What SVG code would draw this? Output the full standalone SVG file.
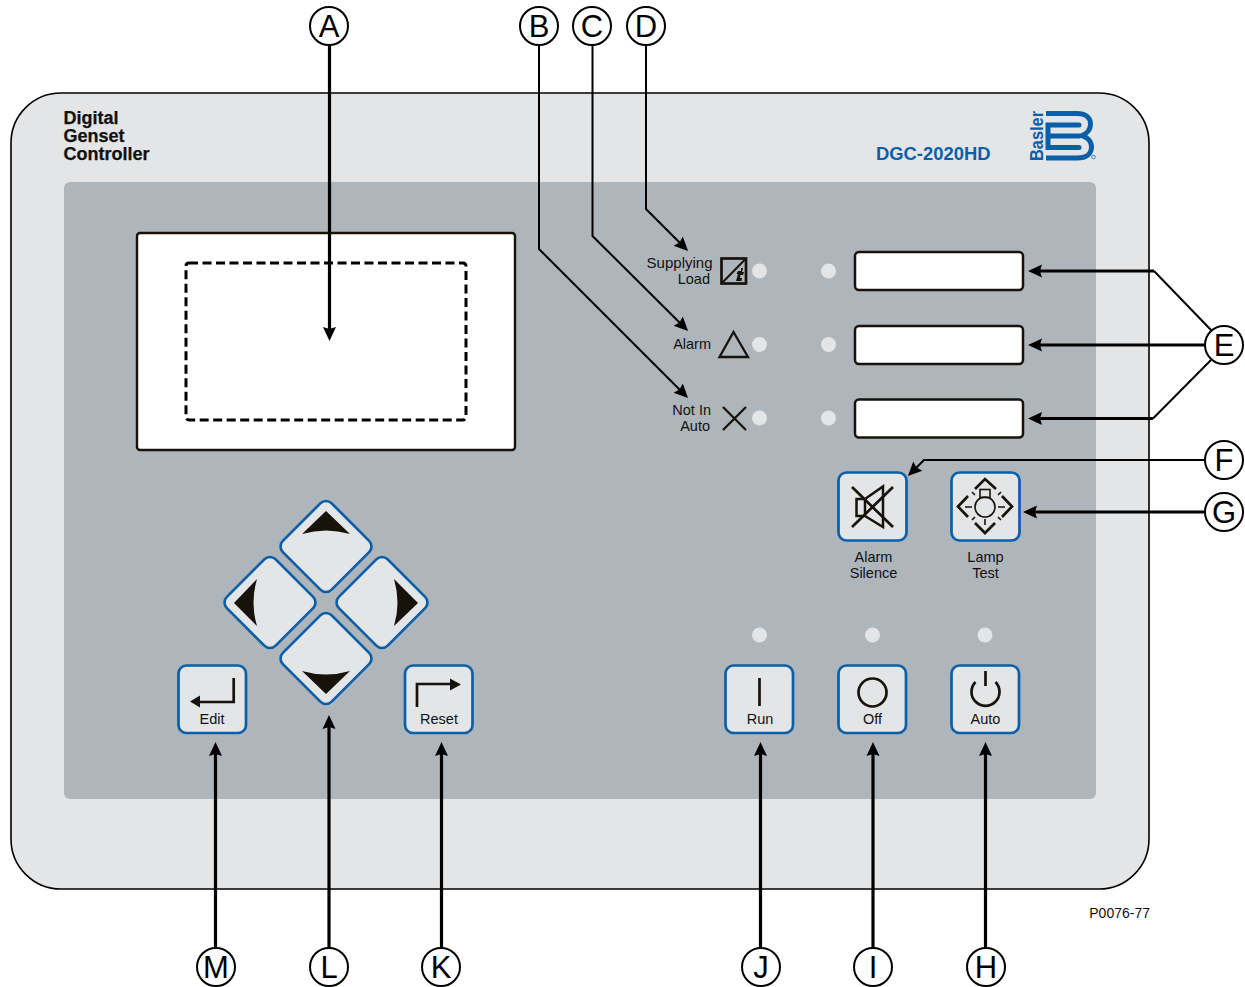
<svg xmlns="http://www.w3.org/2000/svg" width="1245" height="987" viewBox="0 0 1245 987">
<style>
text{font-family:"Liberation Sans",Arial,sans-serif;fill:#111}
.lbl{font-size:14.5px}
.e{text-anchor:end}.m{text-anchor:middle}
.ttl{font-size:18px;font-weight:bold;stroke:#111;stroke-width:.25}
.btn{fill:#e3e5e7;stroke:#0b5fa8;stroke-width:2.7}
.led{fill:#e3e5e7}
.slot{fill:#fff;stroke:#17130a;stroke-width:2.5}
.ic{fill:none;stroke:#17130a;stroke-width:2.7}
.ict{fill:none;stroke:#17130a;stroke-width:1.6}
.fi{fill:#17130a}
.con{fill:none;stroke:#000;stroke-width:3.2;marker-end:url(#ah)}
.thin{fill:none;stroke:#000;stroke-width:2;marker-end:url(#ah)}
.thn{fill:none;stroke:#000;stroke-width:2}
.cir{fill:#fff;stroke:#000;stroke-width:2}
.ltr{font-size:31px;text-anchor:middle;fill:#000}
</style>
<defs>
<marker id="ah" markerUnits="userSpaceOnUse" markerWidth="18" markerHeight="16" viewBox="0 0 18 16" refX="4" refY="8" orient="auto">
<path d="M0 1.500 L14 8 L0 14.500 L2 8Z" fill="#000"/>
</marker>
</defs>
<g id="panel">
<rect x="11" y="93" width="1138" height="796" rx="50" fill="#e3e5e7" stroke="#000" stroke-width="1.6"/>
<rect x="64" y="182" width="1032" height="617" rx="6" fill="#aeb5bb"/>
<text class="ttl" x="63.500" y="124">Digital</text>
<text class="ttl" x="63.500" y="142">Genset</text>
<text class="ttl" x="63.500" y="160">Controller</text>
<text class="ttl" x="876" y="159.500" style="fill:#0b5fa8;stroke:none;font-size:18.400px">DGC-2020HD</text>
</g>
<g id="logo">
<text transform="translate(1042.500 161) rotate(-90)" textLength="50" lengthAdjust="spacingAndGlyphs" style="font-size:17.500px;font-weight:bold;fill:#0b5fa8">Basler</text>
<path d="M1046 113.500H1077C1087 113.500 1090.500 119 1090.500 124C1090.500 130 1086 134 1082 135.500C1087 137 1091.500 141 1091.500 147C1091.500 153 1087 158 1077 158H1046" fill="none" stroke="#0b5fa8" stroke-width="5"/>
<path d="M1079 125H1048V147.500H1079M1048 136H1079" fill="none" stroke="#0b5fa8" stroke-width="5" stroke-linecap="round"/>
<circle cx="1093.500" cy="157" r="1.800" fill="none" stroke="#0b5fa8" stroke-width=".7"/>
</g>
<g id="screen">
<rect x="137" y="233" width="378" height="217" rx="3" fill="#fff" stroke="#17130a" stroke-width="2.400"/>
<rect x="186" y="263" width="280" height="157" rx="3" fill="none" stroke="#000" stroke-width="3" stroke-dasharray="9 4.500"/>
</g>
<g id="status-supplying-load">
<text class="lbl e" x="712.500" y="268" style="font-size:15px">Supplying</text>
<text class="lbl e" x="710" y="284">Load</text>
<rect x="721.500" y="258.500" width="24.500" height="25" fill="none" stroke="#17130a" stroke-width="2.700"/>
<path d="M721.500 283.500L746 258.500" fill="none" stroke="#17130a" stroke-width="2"/>
<path d="M736 281L738 274H736.500L738 271H741V268L743 268L742 272H744L743 275H740.500L740 278H742L741.500 281Z" class="fi"/>
<circle class="led" cx="759.500" cy="271" r="7.500"/><circle class="led" cx="828.500" cy="271" r="7.500"/>
<rect class="slot" x="855" y="252" width="168" height="38" rx="4"/>
</g>
<g id="status-alarm">
<text class="lbl e" x="711" y="349">Alarm</text>
<path d="M719.500 357L733.500 332L748 357Z" fill="none" stroke="#17130a" stroke-width="2.300"/>
<circle class="led" cx="759.500" cy="344.500" r="7.500"/><circle class="led" cx="828.500" cy="344.500" r="7.500"/>
<rect class="slot" x="855" y="326" width="168" height="38" rx="4"/>
</g>
<g id="status-not-in-auto">
<text class="lbl e" x="711" y="415">Not In</text>
<text class="lbl e" x="710" y="431">Auto</text>
<path d="M723 407L746 430M746 407L723 430" fill="none" stroke="#17130a" stroke-width="2.300"/>
<circle class="led" cx="759.500" cy="418" r="7.500"/><circle class="led" cx="828.500" cy="418" r="7.500"/>
<rect class="slot" x="855" y="399.500" width="168" height="38" rx="4"/>
</g>
<g id="btn-alarm-silence">
<rect class="btn" x="838.500" y="472.500" width="68" height="68" rx="8"/>
<path d="M852 487L893 527M893 487L852 527" class="ic"/>
<path d="M856.500 499H865V516H856.500ZM865 499L883 486.500V527L865 516" fill="none" stroke="#17130a" stroke-width="2.500"/>
<text class="lbl m" x="873.500" y="562">Alarm</text>
<text class="lbl m" x="873.500" y="578">Silence</text>
</g>
<g id="btn-lamp-test">
<rect class="btn" x="951.500" y="472.500" width="68" height="68" rx="8"/>
<path d="M975 489L985 479L996 489M975 523L985 533L995 523M968 496L958 506.500L968 517M1002 496L1012 506.500L1002 517" fill="none" stroke="#17130a" stroke-width="2.700"/>
<circle cx="985" cy="507" r="10" class="ict"/>
<rect x="980" y="489.500" width="10" height="8" class="ict"/>
<path d="M965 507H972M998 507H1005M985 519V525M972 492L975 495M998 495L1001 492M972 520L975 517M998 517L1001 520" class="ict"/>
<text class="lbl m" x="985.500" y="562">Lamp</text>
<text class="lbl m" x="985.500" y="578">Test</text>
</g>
<g id="key-up">
<rect class="btn" x="291.500" y="512" width="69" height="69" rx="8" transform="rotate(45 326 546.500)"/>
<path class="fi" d="M326 511L350 534Q326 527 302 534Z"/>
</g>
<g id="key-left">
<rect class="btn" x="235.500" y="568" width="69" height="69" rx="8" transform="rotate(45 270 602.500)"/>
<path class="fi" d="M234 603L257 579Q250 603 257 626Z"/>
</g>
<g id="key-right">
<rect class="btn" x="347.500" y="568" width="69" height="69" rx="8" transform="rotate(45 382 602.500)"/>
<path class="fi" d="M418 603L394 579Q401 603 394 626Z"/>
</g>
<g id="key-down">
<rect class="btn" x="291.500" y="624" width="69" height="69" rx="8" transform="rotate(45 326 658.500)"/>
<path class="fi" d="M326 694L350 671Q326 678 302 671Z"/>
</g>
<g id="btn-edit">
<rect class="btn" x="178.500" y="665.500" width="67.500" height="67.500" rx="8"/>
<path d="M233.700 678V702H198" class="ic"/>
<path class="fi" d="M190 701.500L200 695.500V707.500Z"/>
<text class="lbl m" x="212" y="724">Edit</text>
</g>
<g id="btn-reset">
<rect class="btn" x="405" y="665.500" width="67.500" height="67.500" rx="8"/>
<path d="M417 707V684H452" class="ic"/>
<path class="fi" d="M461 684.500L450 678.500V690.500Z"/>
<text class="lbl m" x="439" y="724">Reset</text>
</g>
<g id="btn-run">
<circle class="led" cx="759.500" cy="635" r="7.500"/>
<rect class="btn" x="725.500" y="665.500" width="67.500" height="67.500" rx="8"/>
<path d="M759.500 678V706" class="ic"/>
<text class="lbl m" x="760" y="724">Run</text>
</g>
<g id="btn-off">
<circle class="led" cx="872.500" cy="635" r="7.500"/>
<rect class="btn" x="838.500" y="665.500" width="67.500" height="67.500" rx="8"/>
<circle cx="872.500" cy="692.500" r="14" class="ic"/>
<text class="lbl m" x="872.500" y="724">Off</text>
</g>
<g id="btn-auto">
<circle class="led" cx="985" cy="635" r="7.500"/>
<rect class="btn" x="951.500" y="665.500" width="67.500" height="67.500" rx="8"/>
<path d="M975.500 682A14 14 0 1 0 995.500 682M985.500 671V686" class="ic"/>
<text class="lbl m" x="985.500" y="724">Auto</text>
</g>
<g id="connectors">
<path class="con" d="M329.500 45V331"/>
<path class="thin" d="M539 45V249L681 391"/>
<path class="thin" d="M592.500 45V236L681 324"/>
<path class="thin" d="M646 45V209L681 244"/>
<path class="con" d="M1205 345H1038"/>
<path class="thn" d="M1211 330L1154 271"/>
<path class="thn" d="M1211 360L1153 418.500"/>
<path class="con" d="M1154 271H1038"/>
<path class="con" d="M1153 418.500H1038"/>
<path class="thin" d="M1205 460H924L915 469"/>
<path class="con" d="M1205 512H1033"/>
<path class="con" d="M985.500 948V752"/>
<path class="con" d="M873 948V752"/>
<path class="con" d="M760.500 948V752"/>
<path class="con" d="M441.500 948V752"/>
<path class="con" d="M329 948V725"/>
<path class="con" d="M215.500 948V752"/>
</g>
<g id="callout-a"><circle class="cir" cx="329" cy="26" r="19"/><text class="ltr" x="329" y="37">A</text></g>
<g id="callout-b"><circle class="cir" cx="539" cy="26" r="19"/><text class="ltr" x="539" y="37">B</text></g>
<g id="callout-c"><circle class="cir" cx="592" cy="26" r="19"/><text class="ltr" x="592" y="37">C</text></g>
<g id="callout-d"><circle class="cir" cx="646" cy="26" r="19"/><text class="ltr" x="646" y="37">D</text></g>
<g id="callout-e"><circle class="cir" cx="1224" cy="345" r="19"/><text class="ltr" x="1224" y="356">E</text></g>
<g id="callout-f"><circle class="cir" cx="1224" cy="460" r="19"/><text class="ltr" x="1224" y="471">F</text></g>
<g id="callout-g"><circle class="cir" cx="1224" cy="512" r="19"/><text class="ltr" x="1224" y="523">G</text></g>
<g id="callout-h"><circle class="cir" cx="986" cy="967" r="19"/><text class="ltr" x="986" y="978">H</text></g>
<g id="callout-i"><circle class="cir" cx="873" cy="967" r="19"/><text class="ltr" x="873" y="978">I</text></g>
<g id="callout-j"><circle class="cir" cx="761" cy="967" r="19"/><text class="ltr" x="761" y="978">J</text></g>
<g id="callout-k"><circle class="cir" cx="441" cy="967" r="19"/><text class="ltr" x="441" y="978">K</text></g>
<g id="callout-l"><circle class="cir" cx="329" cy="967" r="19"/><text class="ltr" x="329" y="978">L</text></g>
<g id="callout-m"><circle class="cir" cx="216" cy="967" r="19"/><text class="ltr" x="216" y="978">M</text></g>
<text x="1150" y="918" class="e" style="font-size:14px">P0076-77</text>
</svg>
